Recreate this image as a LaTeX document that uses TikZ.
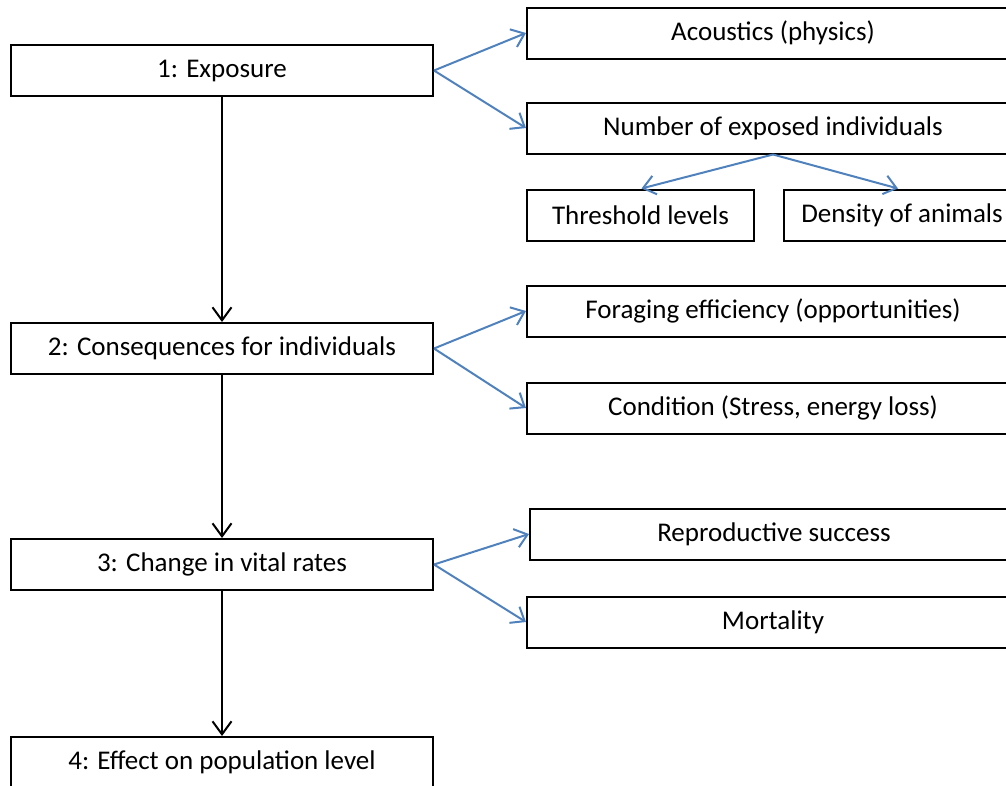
\documentclass[tikz,border=0pt]{standalone}
\usepackage{fontspec}
\setmainfont{Carlito}
\usetikzlibrary{arrows.meta,positioning}
\definecolor{Ink}{HTML}{000000}
\definecolor{LinkBlue}{HTML}{4F81BD}
\tikzset{
  stage/.style={draw=Ink, line width=2pt, minimum width=422pt, minimum height=51pt,
    inner sep=0pt, font=\fontsize{27}{31}\selectfont},
  factor/.style={draw=Ink, line width=2pt, minimum width=492pt, minimum height=51pt,
    inner sep=0pt, anchor=west, font=\fontsize{27}{31}\selectfont},
  detail/.style={factor, minimum width=227pt},
  down/.style={-{Straight Barb[length=13pt,width=19pt,line width=2pt]}, draw=Ink, line width=2pt},
  branch/.style={-{Straight Barb[length=12pt,width=19pt,line width=2pt]}, draw=LinkBlue, line width=2pt},
}

\begin{document}
\begin{tikzpicture}[x=1pt, y=1pt]
  \useasboundingbox (0,0) rectangle (1006,-785);

  % Main chain on the left, gaps measured border-to-border.
  \node[stage] (exposure) at (222,-70.5) {1: Exposure};
  \node[stage, below=225pt of exposure] (consequence) {2: Consequences for individuals};
  \node[stage, below=163pt of consequence] (vital) {3: Change in vital rates};
  \node[stage, below=145pt of vital] (population) {4: Effect on population level};

  % Factors on the right, hung from the west side at fixed x.
  \node[factor] (acoustics) at (526,-33) {Acoustics (physics)};
  \node[factor] (exposed) at (526,-128) {Number of exposed individuals};
  \node[detail] (threshold) at (526,-215) {Threshold levels};
  \node[detail, minimum width=236pt, right=28pt of threshold] (density) {Density of animals};
  \node[factor] (foraging) at (526,-311) {Foraging efficiency (opportunities)};
  \node[factor] (condition) at (526,-408) {Condition (Stress, energy loss)};
  \node[factor, minimum width=488pt] (reproduction) at (529,-534) {Reproductive success};
  \node[factor] (mortality) at (526,-622) {Mortality};

  % Black flow down the chain.
  \draw[down] (exposure.south) -- (consequence.north);
  \draw[down] (consequence.south) -- (vital.north);
  \draw[down] (vital.south) -- (population.north);

  % Blue branches out to the factors.
  \draw[branch] (exposure.east) -- (acoustics.west);
  \draw[branch] (exposure.east) -- (exposed.west);
  \draw[branch] (exposed.south) -- ([xshift=1pt]threshold.north);
  \draw[branch] (exposed.south) -- ([xshift=-4pt]density.north);
  \draw[branch] (consequence.east) -- (foraging.west);
  \draw[branch] (consequence.east) -- (condition.west);
  \draw[branch] (vital.east) -- (reproduction.west);
  \draw[branch] (vital.east) -- (mortality.west);
\end{tikzpicture}
\end{document}
